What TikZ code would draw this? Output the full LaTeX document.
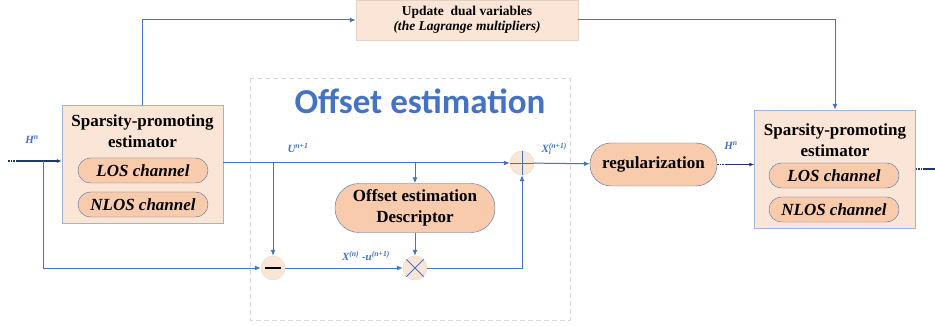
\documentclass[tikz,border=0pt]{standalone}
\usepackage{fontspec}
\setmainfont{Liberation Serif}
\newfontfamily\titlefont{Carlito}
\usetikzlibrary{arrows.meta}
\definecolor{lineblue}{HTML}{4472C4}
\definecolor{navy}{HTML}{203864}
\definecolor{peach}{HTML}{FBE5D6}
\definecolor{salmon}{HTML}{F8CBAD}
\definecolor{boxedge}{HTML}{9DB3DE}
\definecolor{pilledge}{HTML}{4F6FA8}
\tikzset{
	estbox/.style={draw=boxedge, fill=peach, minimum width=161pt, minimum height=118pt, inner sep=0pt},
	chanpill/.style={draw=pilledge, fill=salmon, rounded corners=12.5pt, minimum width=130pt, minimum height=25pt, inner sep=0pt, font=\bfseries\itshape\fontsize{17}{19}\selectfont},
	boxtitle/.style={align=center, font=\bfseries\fontsize{17}{21}\selectfont},
	flow/.style={draw=lineblue, line width=1pt, -{Latex[length=6pt,width=5pt]}},
	link/.style={draw=navy, line width=1.6pt, dash pattern=on 1.5pt off 1pt on 1.5pt off 1pt on 1.5pt off 1pt on 300pt},
	opcircle/.style={circle, fill=peach, draw=peach!85!gray, minimum size=24pt, inner sep=0pt},
	sig/.style={text=lineblue, font=\bfseries\itshape\fontsize{11}{13}\selectfont}
}
\begin{document}
\begin{tikzpicture}[x=1pt,y=-1pt]
	\useasboundingbox (0,0) rectangle (935,326);
	\draw[gray!30, line width=0.8pt, dash pattern=on 5pt off 3pt] (250,78) rectangle (570,320);
	\node[text=lineblue, font=\titlefont\bfseries\fontsize{35}{40}\selectfont] (offtitle) at (420,101) {Offset estimation};
	\node[estbox] (estL) at (142.5,164) {};
	\node[boxtitle] (estLtitle) at (142.5,131) {Sparsity-promoting\\estimator};
	\node[chanpill] (losL) at (143,170.5) {LOS channel};
	\node[chanpill] (nlosL) at (143,204.5) {NLOS channel};
	\node[estbox] (estR) at (835,169) {};
	\node[boxtitle] (estRtitle) at (835,140) {Sparsity-promoting\\estimator};
	\node[chanpill] (losR) at (834,175.5) {LOS channel};
	\node[chanpill] (nlosR) at (834,209.5) {NLOS channel};
	\node[fill=peach, draw=peach!80!gray, minimum width=222pt, minimum height=40pt, align=center, font=\bfseries\fontsize{13.5}{15}\selectfont] (update) at (467,20) {Update\ \ dual variables\\\textit{(the Lagrange multipliers)}};
	\node[draw=pilledge, fill=salmon, rounded corners=24pt, minimum width=160pt, minimum height=49pt, align=center, font=\bfseries\fontsize{17}{21}\selectfont] (desc) at (415,208) {Offset estimation\\Descriptor};
	\node[draw=pilledge, fill=salmon, rounded corners=21pt, minimum width=127pt, minimum height=43pt, font=\bfseries\fontsize{17}{19}\selectfont] (reg) at (653.5,164.5) {regularization};
	\node[opcircle] (plus) at (522,163) {};
	\node[opcircle] (minus) at (273,268) {};
	\node[opcircle] (times) at (415,268) {};
	\draw[lineblue, line width=0.9pt] (plus.north) -- (plus.south) (plus.west) -- (plus.east);
	\draw[lineblue, line width=0.9pt] (times.north west) -- (times.south east) (times.north east) -- (times.south west);
	\draw[black, line width=1.3pt] ([xshift=-8pt]minus.center) -- ([xshift=8pt]minus.center);
	\coordinate (inL) at (8,161);
	\coordinate (splitL) at (43,161);
	\coordinate (outR) at (935,169);
	\draw[link, -{Latex[length=5pt,width=4pt]}] (inL) -- (inL -| estL.west);
	\draw[flow] (splitL) |- (minus);
	\draw[flow] (estL.north) |- (update.west);
	\draw[flow] (update.east) -| (estR.north);
	\draw[flow] (estL.east |- plus) -- (plus);
	\draw[flow] (minus.north |- plus) -- (minus);
	\draw[flow] (desc.north |- plus) -- (desc);
	\draw[flow] (desc) -- (times);
	\draw[flow] (minus) -- (times);
	\draw[flow] (times) -| (plus);
	\draw[flow] (plus) -- (reg);
	\draw[link, -{Latex[length=5pt,width=4pt]}] (reg.east) -- (reg.east -| estR.west);
	\draw[link] (estR.east) -- (outR);
	\node[sig] (hinL) at (32,140) {H\textsuperscript{n}};
	\node[sig] (ulab) at (298,148) {U\textsuperscript{n+1}};
	\node[sig, anchor=west] (xilab) at (538,149) {X\rlap{\textsubscript{i}}\textsuperscript{(n+1)}};
	\node[sig] (difflab) at (366,256) {X\textsuperscript{(n)} -u\textsuperscript{(n+1)}};
	\node[sig] (hinR) at (731,146) {H\textsuperscript{n}};
\end{tikzpicture}
\end{document}
